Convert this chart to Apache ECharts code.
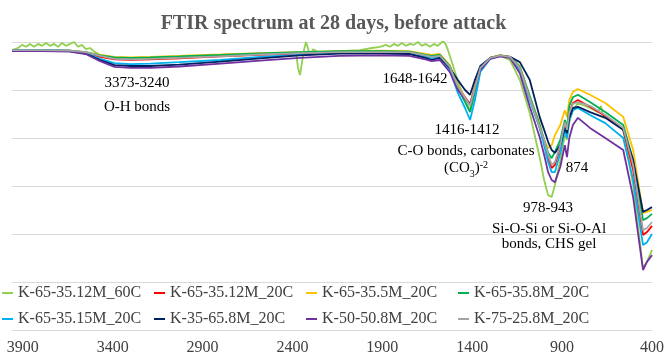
<!DOCTYPE html>
<html>
<head>
<meta charset="utf-8">
<script src="https://cdn.jsdelivr.net/npm/echarts@6/dist/echarts.min.js"></script>
<style>
  html, body { margin: 0; padding: 0; background: #fff; }
  #chart { width: 667px; height: 358px; }
</style>
</head>
<body>
<div id="chart"></div>
<script>
// wavenumbers (cm-1) shared by the 20C series
const wavenumbers = [3960, 3800, 3640, 3550, 3470, 3390, 3300, 3190, 3030, 2800, 2580, 2360, 2140, 1910,
  1750, 1660, 1625, 1580, 1525, 1480, 1440, 1412, 1385, 1355, 1300, 1245, 1190, 1135, 1080, 1025,
  1000, 978, 958, 940, 910, 885, 873, 860, 840, 812, 745, 660, 560, 505, 450, 428, 400];

// transmittance (%)
const k65_35_12M_20C = [98.3, 98.3, 98.2, 97.8, 96.9, 96.4, 96.3, 96.4, 96.6, 97.0, 97.3, 97.6, 97.9, 97.9,
  97.9, 97.3, 97.0, 97.3, 95.0, 90.8, 88.5, 87.1, 90.8, 94.6, 96.7, 97.2, 96.9, 94.6, 88.3, 82.3,
  79.2, 75.8, 73.75, 74.4, 78.1, 82.7, 81.25, 85.4, 87.3, 87.9, 86.5, 84.6, 81.7, 73.3, 59.8, 60.4, 61.7];
const k65_35_5M_20C = [98.3, 98.3, 98.2, 97.9, 97.3, 96.9, 96.8, 96.9, 97.1, 97.4, 97.7, 97.9, 98.1, 98.2,
  98.1, 97.5, 97.3, 97.5, 95.2, 91.0, 88.3, 86.9, 91.0, 94.6, 96.7, 97.3, 96.9, 95.0, 88.75, 83.1,
  79.6, 77.9, 78.5, 80.6, 82.7, 85.8, 84.4, 87.9, 89.6, 90.2, 89.0, 87.3, 84.4, 77.5, 64.4, 64.6, 65.0];
const k65_35_8M_20C = [98.3, 98.3, 98.2, 97.9, 97.2, 96.8, 96.7, 96.8, 97.0, 97.3, 97.6, 97.9, 98.1, 98.1,
  98.0, 97.3, 97.1, 97.3, 95.0, 90.4, 87.5, 85.4, 89.6, 94.2, 96.7, 97.2, 96.9, 94.8, 88.75, 82.7,
  79.6, 76.9, 75.8, 77.1, 79.6, 83.75, 82.3, 86.7, 88.5, 89.0, 87.5, 85.4, 82.7, 75.4, 62.9, 63.3, 64.2];
const k65_35_15M_20C = [98.3, 98.3, 98.2, 97.7, 96.5, 95.6, 95.4, 95.5, 95.8, 96.25, 96.9, 97.3, 97.7, 97.7,
  97.6, 96.9, 96.6, 96.9, 94.2, 89.4, 86.25, 83.75, 87.9, 93.75, 96.5, 97.1, 96.8, 94.2, 87.9, 82.1,
  78.5, 75.0, 72.9, 72.9, 76.9, 81.7, 80.0, 83.75, 85.8, 86.25, 84.8, 83.1, 80.0, 71.25, 57.7, 58.3, 60.0];
const k35_65_8M_20C = [98.2, 98.2, 98.1, 97.6, 96.25, 95.2, 95.0, 95.0, 95.3, 95.9, 96.6, 97.2, 97.6, 97.6,
  97.5, 96.7, 96.25, 96.7, 94.6, 92.1, 90.0, 89.0, 92.1, 95.0, 96.7, 97.1, 96.9, 95.8, 92.1, 84.4,
  81.7, 79.2, 77.5, 76.9, 78.5, 82.1, 81.0, 84.2, 86.25, 86.5, 85.4, 84.2, 81.7, 75.4, 64.6, 65.0, 65.6];
const k50_50_8M_20C = [98.1, 98.1, 98.0, 97.5, 96.0, 94.8, 94.6, 94.6, 94.9, 95.5, 96.1, 96.7, 97.1, 97.2,
  97.1, 96.4, 96.0, 96.25, 93.75, 90.0, 88.1, 87.1, 90.4, 94.2, 96.5, 97.0, 96.7, 93.5, 86.5, 80.2,
  76.5, 72.9, 71.25, 70.8, 74.0, 78.5, 76.0, 80.0, 82.7, 84.2, 82.1, 80.0, 77.5, 67.7, 52.5, 54.2, 55.6];
const k75_25_8M_20C = [98.3, 98.3, 98.2, 97.9, 97.1, 96.5, 96.4, 96.5, 96.7, 97.0, 97.4, 97.7, 97.9, 97.9,
  97.9, 97.2, 96.9, 97.1, 94.8, 90.8, 88.3, 86.7, 90.4, 94.6, 96.7, 97.2, 96.9, 94.6, 88.3, 82.3,
  79.6, 76.5, 74.4, 75.0, 78.5, 83.3, 81.7, 85.4, 87.1, 87.5, 86.7, 84.8, 82.1, 74.4, 60.8, 61.25, 62.5];

// the 60C sample is noisier, so it has its own wavenumbers
const wavenumbers60C = [3960, 3927, 3904, 3882, 3860, 3838, 3815, 3793, 3771, 3749, 3726, 3704, 3682, 3660,
  3637, 3615, 3593, 3571, 3549, 3526, 3498, 3470, 3390, 3300, 3190, 3030, 2800, 2580, 2413, 2380,
  2369, 2358, 2347, 2336, 2325, 2314, 2302, 2285, 2258, 2140, 2025, 1958, 1913, 1880, 1858, 1836,
  1813, 1791, 1769, 1747, 1724, 1702, 1680, 1658, 1635, 1613, 1591, 1569, 1557, 1546, 1535, 1513,
  1479, 1440, 1412, 1385, 1355, 1300, 1245, 1190, 1135, 1080, 1025, 1000, 978, 958, 940, 910,
  885, 873, 860, 840, 812, 745, 700, 684, 672, 660, 560, 505, 450, 428, 400];
const k65_35_12M_60C = [98.3, 98.75, 99.4, 99.0, 99.6, 99.0, 99.6, 99.2, 99.8, 99.2, 99.6, 99.0, 99.8, 99.2,
  99.6, 100.0, 99.0, 99.4, 98.5, 98.75, 97.9, 97.3, 96.7, 96.6, 96.7, 96.9, 97.2, 97.5, 97.7, 97.9,
  94.6, 93.1, 95.8, 98.3, 100.0, 98.75, 97.3, 98.5, 97.9, 98.1, 98.3, 98.75, 99.0, 99.4, 99.0, 99.6,
  99.2, 99.8, 99.2, 99.6, 99.4, 100.0, 99.2, 99.6, 99.0, 99.6, 99.2, 100.0, 100.0, 99.4, 98.3, 95.8,
  91.7, 87.9, 85.8, 89.6, 94.2, 96.7, 97.1, 96.25, 92.1, 85.2, 76.0, 71.25, 68.1, 67.7, 70.2, 75.4,
  80.6, 79.6, 83.3, 85.8, 87.3, 86.25, 85.4, 86.7, 84.6, 84.4, 81.7, 70.2, 52.9, 54.2, 56.7];

const seriesNames = ['K-65-35.12M_60C', 'K-65-35.12M_20C', 'K-65-35.5M_20C', 'K-65-35.8M_20C',
  'K-65-35.15M_20C', 'K-35-65.8M_20C', 'K-50-50.8M_20C', 'K-75-25.8M_20C'];
const seriesColors = ['#92D050', '#FF0000', '#FFC000', '#00B050', '#00B0F0', '#002060', '#7030A0', '#A5A5A5'];
const seriesValues = [k65_35_12M_60C, k65_35_12M_20C, k65_35_5M_20C, k65_35_8M_20C,
  k65_35_15M_20C, k35_65_8M_20C, k50_50_8M_20C, k75_25_8M_20C];
const xTicks = [400, 900, 1400, 1900, 2400, 2900, 3400, 3900];

const serif = "'Liberation Serif', 'Times New Roman', serif";

const chart = echarts.init(document.getElementById('chart'));

const series = seriesNames.map((name, i) => {
  const xs = i === 0 ? wavenumbers60C : wavenumbers;
  return {
    name: name,
    type: 'line',
    showSymbol: false,
    lineStyle: { width: 1.8, color: seriesColors[i] },
    itemStyle: { color: seriesColors[i] },
    data: xs.map((w, j) => [w, seriesValues[i][j]])
  };
});

const note = (text, x, y) => ({
  type: 'text', x: x, y: y, silent: true,
  style: { text: text, font: '15px ' + serif, fill: '#000', align: 'center', verticalAlign: 'middle' }
});

chart.setOption({
  animation: false,
  title: {
    text: 'FTIR spectrum at 28 days, before attack',
    left: 'center', top: 9,
    textStyle: { fontFamily: serif, fontSize: 20, fontWeight: 'bold', color: '#595959' }
  },
  grid: { left: 12, right: 15, top: 42, bottom: 28 },
  xAxis: {
    type: 'value', min: 400, max: 3960, inverse: true,
    axisLine: { show: false },
    axisTick: { show: false },
    splitLine: { show: false },
    axisLabel: {
      customValues: xTicks, formatter: v => String(v),
      fontFamily: serif, fontSize: 16, color: '#404040', margin: 10
    }
  },
  yAxis: {
    type: 'value', min: 40, max: 100, interval: 10,
    axisLine: { show: false },
    axisTick: { show: false },
    axisLabel: { show: false },
    splitLine: { lineStyle: { color: '#D9D9D9', width: 1 } }
  },
  legend: {
    left: 2, top: 283, width: 640, padding: 0,
    icon: 'rect', itemWidth: 11, itemHeight: 2, itemGap: 6,
    data: seriesNames,
    textStyle: { fontFamily: serif, fontSize: 16, color: '#404040', width: 130, lineHeight: 20 }
  },
  graphic: [
    note('3373-3240', 137, 83),
    note('O-H bonds', 137, 107),
    note('1648-1642', 415, 79),
    note('1416-1412', 467, 130),
    note('C-O bonds, carbonates', 466, 151),
    {
      type: 'text', x: 466, y: 168, silent: true,
      style: {
        text: '(CO{sub|3}){sup|-2}', font: '15px ' + serif, fill: '#000', align: 'center', verticalAlign: 'middle',
        rich: {
          sub: { fontFamily: serif, fontSize: 10, fill: '#000', verticalAlign: 'bottom', lineHeight: 10, padding: [0, 0, -4, 0] },
          sup: { fontFamily: serif, fontSize: 10, fill: '#000', verticalAlign: 'top', lineHeight: 10 }
        }
      }
    },
    note('874', 577, 168),
    note('978-943', 548, 208),
    note('Si-O-Si or Si-O-Al', 549, 229),
    note('bonds, CHS gel', 549, 244)
  ],
  series: series
});
</script>
</body>
</html>
